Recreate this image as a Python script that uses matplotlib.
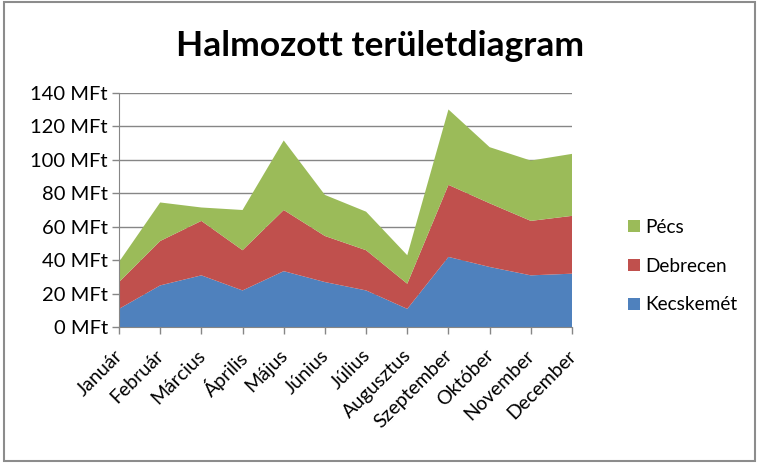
import matplotlib
matplotlib.use("Agg")
import matplotlib.pyplot as plt
from matplotlib.patches import Rectangle, Patch
from matplotlib.transforms import ScaledTranslation
import numpy as np

plt.rcParams['font.family'] = ['Lato', 'DejaVu Sans']

months = ["Január", "Február", "Március", "Április", "Május", "Június",
          "Július", "Augusztus", "Szeptember", "Október", "November", "December"]
kecskemet = [11, 25, 31, 22, 33.5, 27, 22, 11, 42, 36, 31, 32]
debrecen = [16, 26.5, 32.5, 24, 36.5, 27.5, 24, 15, 43, 38, 32.5, 34.5]
pecs = [12, 23, 8, 24, 41.5, 24.5, 23, 17, 45, 33.5, 36, 37]
series_names = ["Kecskemét", "Debrecen", "Pécs"]
colors = ["#4F81BD", "#C0504D", "#9BBB59"]
yticks = [0, 20, 40, 60, 80, 100, 120, 140]

fig = plt.figure(figsize=(7.6, 4.66), dpi=100)
fig.patch.set_facecolor("white")

# chart border
fig.patches.append(Rectangle((4/760, 1 - 461/466), 751/760, 459/466,
                             transform=fig.transFigure, fill=False,
                             edgecolor="#8C8C8C", linewidth=1.5))

ax = fig.add_axes([119/760, 1 - 327.3/466, (572 - 119)/760, (327.3 - 92.7)/466])
x = np.arange(len(months))
ax.stackplot(x, kecskemet, debrecen, pecs, colors=colors,
             labels=series_names, edgecolor="none", zorder=2)
ax.set_xlim(0, len(months) - 1)
ax.set_ylim(0, 140)
ax.set_yticks(yticks)
ax.set_yticklabels([f"{v} MFt" for v in yticks], fontsize=14.5)
ax.set_xticks(x)
ax.set_xticklabels(months, rotation=45, ha="right", rotation_mode="anchor", fontsize=14)
ax.grid(axis="y", color="#868686", linewidth=1, zorder=0)
ax.set_axisbelow(True)
for s in ["top", "right"]:
    ax.spines[s].set_visible(False)
ax.spines["left"].set_color("#868686")
ax.spines["bottom"].set_color("#868686")
ax.tick_params(axis="both", color="#868686", length=5, width=1, pad=3)
ax.tick_params(axis="x", pad=9)
off = ScaledTranslation(-5/100, 0, fig.dpi_scale_trans)
for lab in ax.get_xticklabels():
    lab.set_transform(lab.get_transform() + off)

fig.text(380/760, 1 - 46/466, "Halmozott területdiagram", ha="center", va="center",
         fontsize=25.5, fontweight="bold")

handles = [Patch(facecolor=c, label=n) for c, n in zip(colors, series_names)][::-1]
fig.legend(handles=handles, loc="center left", bbox_to_anchor=(611/760, 1 - 266/466),
           frameon=False, fontsize=13.7, handlelength=0.6, handleheight=0.6,
           handletextpad=0.3, labelspacing=1.15)

fig.savefig("out.png", dpi=100)
